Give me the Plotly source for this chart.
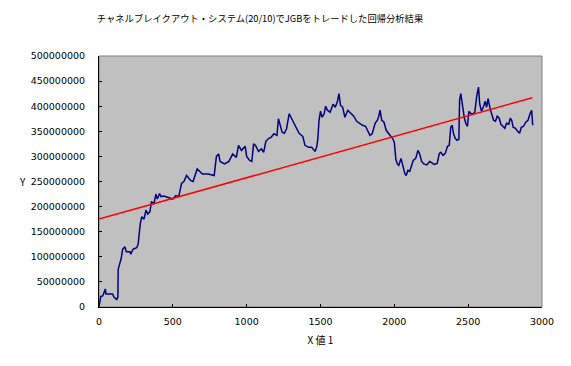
import plotly.graph_objects as go

TITLE = "チャネルブレイクアウト・システム(20/10)でJGBをトレードした回帰分析結果"
X_TITLE = "X 値 1"
Y_TITLE = "Y"

# equity curve, sampled readings (x index, value in millions)
x_vals = [0, 5, 12, 25, 43, 47, 92, 101, 120, 128, 130, 140, 150, 160, 175, 185, 210, 215, 230, 255,
          265, 279, 290, 305, 318, 330, 345, 355, 372, 385, 395, 410, 420, 440, 465, 490, 500, 520, 540, 559,
          575, 593, 620, 637, 650, 665, 700, 740, 780, 795, 810, 820, 850, 880, 905, 930, 945, 965, 990, 1000,
          1020, 1035, 1047, 1060, 1080, 1100, 1115, 1130, 1150, 1165, 1185, 1205, 1215, 1228, 1240, 1255, 1270, 1288, 1300, 1318,
          1335, 1355, 1380, 1395, 1420, 1440, 1464, 1475, 1482, 1490, 1500, 1510, 1525, 1535, 1547, 1565, 1585, 1600, 1615, 1625,
          1635, 1650, 1665, 1685, 1705, 1725, 1745, 1765, 1785, 1805, 1820, 1835, 1850, 1870, 1885, 1895, 1903, 1915, 1930, 1945,
          1960, 1975, 1990, 2000, 2010, 2020, 2030, 2045, 2058, 2072, 2080, 2092, 2104, 2115, 2128, 2145, 2160, 2170, 2185, 2200,
          2220, 2240, 2255, 2270, 2290, 2305, 2315, 2330, 2345, 2360, 2372, 2382, 2392, 2400, 2412, 2425, 2437, 2442, 2450, 2462,
          2475, 2485, 2495, 2505, 2515, 2530, 2545, 2558, 2570, 2578, 2590, 2605, 2615, 2625, 2635, 2648, 2660, 2672, 2685, 2697,
          2710, 2722, 2735, 2748, 2760, 2775, 2785, 2795, 2805, 2820, 2835, 2848, 2860, 2875, 2890, 2905, 2920, 2930, 2937]
y_millions = [1, 8, 21, 22, 36, 26, 26, 20, 15, 20, 75, 86, 96, 115, 120, 110, 110, 105, 115, 118,
              125, 165, 180, 175, 193, 185, 190, 210, 205, 225, 215, 226, 220, 221, 218, 215, 215, 222, 220, 246,
              250, 262, 252, 250, 262, 275, 265, 265, 262, 300, 305, 290, 285, 290, 305, 298, 322, 312, 320, 300,
              292, 290, 325, 322, 310, 315, 308, 330, 336, 338, 345, 342, 375, 360, 348, 346, 355, 385, 378, 370,
              358, 346, 340, 322, 318, 318, 310, 320, 335, 372, 390, 378, 385, 400, 392, 388, 404, 398, 410, 425,
              402, 398, 378, 392, 386, 380, 370, 366, 362, 360, 352, 342, 345, 366, 372, 380, 392, 372, 368, 352,
              346, 340, 335, 328, 295, 285, 282, 296, 280, 265, 262, 272, 270, 282, 292, 296, 312, 306, 290, 285,
              283, 290, 287, 284, 286, 306, 308, 302, 306, 320, 322, 358, 362, 346, 336, 332, 334, 412, 425, 398,
              375, 365, 360, 390, 386, 384, 388, 420, 438, 405, 390, 400, 410, 398, 415, 396, 382, 372, 370, 380,
              376, 364, 360, 356, 366, 364, 376, 372, 358, 356, 350, 346, 358, 360, 368, 372, 386, 392, 362]
y_vals = [v * 1e6 for v in y_millions]

# regression line endpoints as read
reg_x = [0, 2935]
reg_y = [175e6, 417e6]

x_ticks = [0, 500, 1000, 1500, 2000, 2500, 3000]
y_ticks = [0, 50e6, 100e6, 150e6, 200e6, 250e6, 300e6, 350e6, 400e6, 450e6, 500e6]

CJK = "Noto Sans CJK JP"
NUM = "DejaVu Sans, Noto Sans CJK JP"

fig = go.Figure()
fig.add_trace(go.Scatter(x=x_vals, y=y_vals, mode="lines",
                         line=dict(color="#000080", width=1.5), showlegend=False))
fig.add_trace(go.Scatter(x=reg_x, y=reg_y, mode="lines",
                         line=dict(color="#FF0000", width=1.5), showlegend=False))

fig.update_layout(
    width=571, height=366,
    margin=dict(l=99, r=29, t=56, b=59),
    paper_bgcolor="white",
    plot_bgcolor="#C0C0C0",
    font=dict(family=NUM, size=10, color="black"),
    title=dict(text=TITLE, x=260/571, xanchor="center", xref="container",
               y=1 - 19/366, yanchor="middle", yref="container",
               font=dict(family=CJK, size=9.3, color="black")),
    xaxis=dict(range=[0, 3000], tickvals=x_ticks, ticktext=[str(v) for v in x_ticks],
               showgrid=False, zeroline=False, showline=True, linecolor="black", linewidth=1,
               ticks="inside", ticklen=3, tickcolor="black", ticklabelstandoff=6,
               tickfont=dict(family=NUM, size=9.5),
               title=dict(text=X_TITLE, standoff=10, font=dict(family=CJK, size=10))),
    yaxis=dict(range=[0, 500e6], tickvals=y_ticks, ticktext=[str(int(v)) for v in y_ticks],
               showgrid=False, zeroline=False, showline=True, linecolor="black", linewidth=1,
               ticks="inside", ticklen=3, tickcolor="black", ticklabelstandoff=11,
               tickfont=dict(family=NUM, size=9.5)),
    annotations=[dict(text=Y_TITLE, xref="paper", yref="paper", x=-(99 - 22) / 443, y=0.5,
                      xanchor="center", yanchor="middle", showarrow=False,
                      font=dict(family=CJK, size=10, color="black"))],
    shapes=[dict(type="rect", xref="paper", yref="paper", x0=0, x1=1, y0=0, y1=1,
                 line=dict(color="#808080", width=1), layer="below")],
)

fig.write_html("out.html", config={"displayModeBar": False},
               post_script="document.body.style.margin='0';")
